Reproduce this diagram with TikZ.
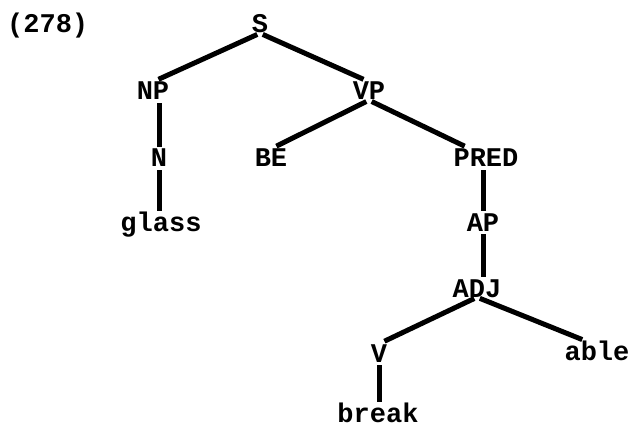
\documentclass[tikz,border=0pt]{standalone}
\usepackage{fontspec}
\setmonofont{Liberation Mono}
\begin{document}
\begin{tikzpicture}[x=1pt,y=-1pt,
    lab/.style={font=\ttfamily\bfseries\fontsize{27}{27}\selectfont,
      inner sep=0pt, anchor=base, text height=18pt, text depth=0pt},
    br/.style={line width=5pt, shorten <=3pt, shorten >=6pt},
    vbr/.style={shorten >=2pt}]
  \useasboundingbox (0,0) rectangle (633,428);
  \node[lab, anchor=base west] (num) at (7,33) {(278)};
  \draw
    (260,33) node[lab] (S){S}
    (153,100) node[lab] (NP){NP}
    (369,100) node[lab] (VP){VP}
    (159,167) node[lab] (N){N}
    (271,167) node[lab] (BE){BE}
    (486,167) node[lab] (PRED){PRED}
    (161,231) node[lab] (glass){glass}
    (483,231) node[lab] (AP){AP}
    (477,297) node[lab] (ADJ){ADJ}
    (379,362) node[lab] (V){V}
    (597,360) node[lab] (able){able}
    (378,422) node[lab] (break){break};
  \begin{scope}[br]
    \draw (S.south) to (NP.north);
    \draw (S.south) to (VP.north);
    \draw[vbr] (NP.south -| N.north) to (N.north);
    \draw[vbr] (N.south) to (N.south |- glass.north);
    \draw (VP.south) to (BE.north);
    \draw (VP.south) to (PRED.150);
    \draw[vbr] (PRED.south -| AP.north) to (AP.north);
    \draw[vbr] (AP.south) to (AP.south |- ADJ.north);
    \draw (ADJ.south) to (V.north);
    \draw (ADJ.south) to (able.135);
    \draw[vbr] (V.south) to (V.south |- break.north);
  \end{scope}
\end{tikzpicture}
\end{document}
